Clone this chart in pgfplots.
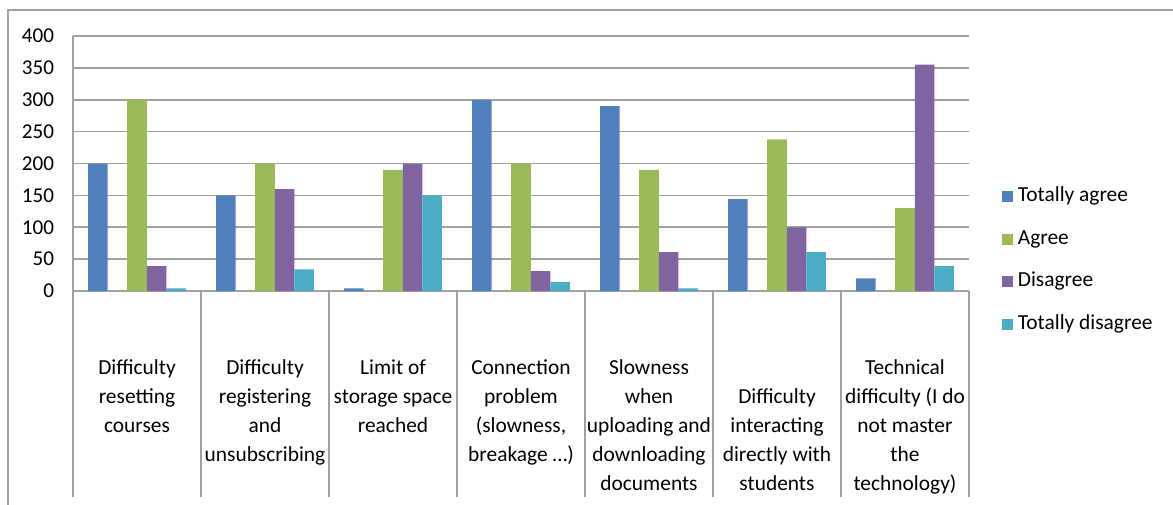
\documentclass[border=0pt]{standalone}
\usepackage{fontspec}
\setmainfont{Carlito}
\usepackage{pgfplots}
\pgfplotsset{compat=1.18}

\definecolor{cTA}{HTML}{4F81BD}
\definecolor{cA}{HTML}{9BBB59}
\definecolor{cD}{HTML}{8064A2}
\definecolor{cTD}{HTML}{4BACC6}
\definecolor{gridc}{HTML}{A0A0A0}

\begin{document}
\begin{tikzpicture}
\useasboundingbox (0,0) rectangle (586.5bp,252.5bp);
\draw[gridc, line width=1bp] (4bp,0) -- (4bp,247.5bp) -- (586.5bp,247.5bp);
\begin{axis}[
    at={(36.5bp,107bp)}, anchor=south west,
    scale only axis,
    width=448bp, height=127.5bp,
    xmin=-0.5, xmax=6.5,
    ymin=0, ymax=400,
    ytick={0,50,...,400},
    xtick={0,...,6},
    xticklabels={
        {\strut Difficulty\\resetting\\courses},
        {\strut Difficulty\\registering\\and\\unsubscribing},
        {\strut Limit of\\storage space\\reached},
        {\strut Connection\\problem\\(slowness,\\breakage \ldots)},
        {\strut Slowness\\when\\uploading and\\downloading\\documents},
        {\strut\\Difficulty\\interacting\\directly with\\students},
        {\strut Technical\\difficulty (I do\\not master\\the\\technology)}},
    extra x ticks={-0.5,0.5,1.5,2.5,3.5,4.5,5.5,6.5},
    extra x tick labels={},
    extra x tick style={major tick length=103bp, tick align=outside,
        grid=none, tick style={gridc, line width=0.8bp}},
    major tick length=0pt,
    axis x line*=bottom, axis y line*=left,
    axis line style={gridc, line width=0.8bp, -},
    ymajorgrids=true,
    grid style={gridc, line width=0.8bp},
    /pgf/number format/assume math mode=true,
    yticklabel style={font=\fontsize{10.6}{12}\selectfont, xshift=-6bp},
    xticklabel style={font=\fontsize{10.75}{14.6}\selectfont, align=center,
        anchor=north, inner sep=0pt, yshift=-31.2bp},
    ybar, bar width=0.153,
    clip=false,
    legend style={at={(1.036,0.12)}, anchor=west, draw=none, fill=none,
        inner sep=0pt, row sep=11.3bp,
        font=\fontsize{10.75}{12}\selectfont,
        nodes={inner xsep=2.5bp, inner ysep=0pt, text height=7.5bp, text depth=2.5bp}},
    legend cell align=left,
    legend image code/.code={\fill[#1] (0bp,-2.8bp) rectangle (5.6bp,2.8bp);},
]
\addplot[fill=cTA, draw=none, bar shift=-0.306] coordinates {
    (0,200) (1,150) (2,4) (3,300) (4,290) (5,144) (6,20)};
\addplot[fill=cA, draw=none, bar shift=0] coordinates {
    (0,300) (1,200) (2,190) (3,200) (4,190) (5,238) (6,130)};
\addplot[fill=cD, draw=none, bar shift=0.153] coordinates {
    (0,39) (1,160) (2,200) (3,31) (4,61) (5,100) (6,355)};
\addplot[fill=cTD, draw=none, bar shift=0.306] coordinates {
    (0,4) (1,34) (2,150) (3,14) (4,4) (5,61) (6,39)};
\legend{Totally agree, Agree, Disagree, Totally disagree}
\end{axis}
\end{tikzpicture}
\end{document}
